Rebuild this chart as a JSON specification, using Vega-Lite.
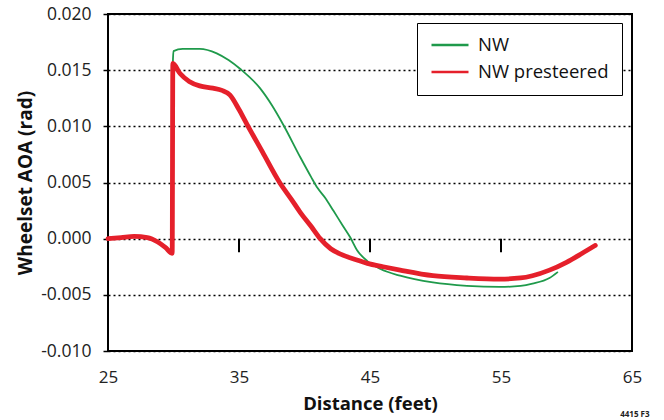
{
  "$schema": "https://vega.github.io/schema/vega-lite/v6.json",
  "width": 524,
  "height": 337,
  "autosize": {"type": "none"},
  "padding": {"left": 108, "top": 14, "right": 32, "bottom": 69},
  "background": "white",
  "config": {
    "font": "Open Sans",
    "view": {"stroke": "black", "strokeWidth": 2},
    "axis": {"labelFont": "Open Sans", "titleFont": "Open Sans", "labelColor": "#222", "titleColor": "#111", "labelFlush": false},
    "legend": {"symbolStrokeWidth": 2.5}
  },
  "datasets": {
    "lines": [
      {"series": "NW", "i": 1, "x": 25, "y": 0},
      {"series": "NW", "i": 2, "x": 26, "y": 0.0001},
      {"series": "NW", "i": 3, "x": 27, "y": 0.0002},
      {"series": "NW", "i": 4, "x": 28, "y": 0.0001},
      {"series": "NW", "i": 5, "x": 28.8, "y": -0.0003},
      {"series": "NW", "i": 6, "x": 29.4, "y": -0.0008},
      {"series": "NW", "i": 7, "x": 29.9, "y": -0.0013},
      {"series": "NW", "i": 8, "x": 29.95, "y": 0.0156},
      {"series": "NW", "i": 9, "x": 30.0, "y": 0.0167},
      {"series": "NW", "i": 10, "x": 30.7, "y": 0.0169},
      {"series": "NW", "i": 11, "x": 32.0, "y": 0.0169},
      {"series": "NW", "i": 12, "x": 33.3, "y": 0.0165},
      {"series": "NW", "i": 13, "x": 34.2, "y": 0.0159},
      {"series": "NW", "i": 14, "x": 35.1, "y": 0.0151},
      {"series": "NW", "i": 15, "x": 36.6, "y": 0.0134},
      {"series": "NW", "i": 16, "x": 37.5, "y": 0.0119},
      {"series": "NW", "i": 17, "x": 38.4, "y": 0.0101},
      {"series": "NW", "i": 18, "x": 39.7, "y": 0.0072},
      {"series": "NW", "i": 19, "x": 40.5, "y": 0.0055},
      {"series": "NW", "i": 20, "x": 41.0, "y": 0.0045},
      {"series": "NW", "i": 21, "x": 41.6, "y": 0.0036},
      {"series": "NW", "i": 22, "x": 42.2, "y": 0.0025},
      {"series": "NW", "i": 23, "x": 42.9, "y": 0.0012},
      {"series": "NW", "i": 24, "x": 43.5, "y": 0.0001},
      {"series": "NW", "i": 25, "x": 44.0, "y": -0.0010},
      {"series": "NW", "i": 26, "x": 44.8, "y": -0.0020},
      {"series": "NW", "i": 27, "x": 45.8, "y": -0.0027},
      {"series": "NW", "i": 28, "x": 47.3, "y": -0.0033},
      {"series": "NW", "i": 29, "x": 49.8, "y": -0.0039},
      {"series": "NW", "i": 30, "x": 52.4, "y": -0.0042},
      {"series": "NW", "i": 31, "x": 54.9, "y": -0.0043},
      {"series": "NW", "i": 32, "x": 56.5, "y": -0.0042},
      {"series": "NW", "i": 33, "x": 57.4, "y": -0.0040},
      {"series": "NW", "i": 34, "x": 58.7, "y": -0.0035},
      {"series": "NW", "i": 35, "x": 59.3, "y": -0.0030},
      {"series": "NW presteered", "i": 1, "x": 25, "y": 0},
      {"series": "NW presteered", "i": 2, "x": 26, "y": 0.0001},
      {"series": "NW presteered", "i": 3, "x": 27, "y": 0.0002},
      {"series": "NW presteered", "i": 4, "x": 28, "y": 0.0001},
      {"series": "NW presteered", "i": 5, "x": 28.8, "y": -0.0003},
      {"series": "NW presteered", "i": 6, "x": 29.4, "y": -0.0008},
      {"series": "NW presteered", "i": 7, "x": 29.9, "y": -0.0013},
      {"series": "NW presteered", "i": 8, "x": 29.95, "y": 0.0156},
      {"series": "NW presteered", "i": 9, "x": 30.5, "y": 0.0147},
      {"series": "NW presteered", "i": 10, "x": 31.2, "y": 0.0140},
      {"series": "NW presteered", "i": 11, "x": 32.0, "y": 0.0136},
      {"series": "NW presteered", "i": 12, "x": 33.0, "y": 0.0134},
      {"series": "NW presteered", "i": 13, "x": 33.7, "y": 0.0132},
      {"series": "NW presteered", "i": 14, "x": 34.3, "y": 0.0128},
      {"series": "NW presteered", "i": 15, "x": 35.0, "y": 0.0115},
      {"series": "NW presteered", "i": 16, "x": 35.6, "y": 0.0102},
      {"series": "NW presteered", "i": 17, "x": 36.8, "y": 0.0077},
      {"series": "NW presteered", "i": 18, "x": 38.1, "y": 0.0050},
      {"series": "NW presteered", "i": 19, "x": 39.0, "y": 0.0035},
      {"series": "NW presteered", "i": 20, "x": 39.7, "y": 0.0023},
      {"series": "NW presteered", "i": 21, "x": 40.5, "y": 0.0011},
      {"series": "NW presteered", "i": 22, "x": 41.2, "y": 0.0000},
      {"series": "NW presteered", "i": 23, "x": 42.0, "y": -0.0009},
      {"series": "NW presteered", "i": 24, "x": 42.8, "y": -0.0014},
      {"series": "NW presteered", "i": 25, "x": 44.0, "y": -0.0019},
      {"series": "NW presteered", "i": 26, "x": 44.8, "y": -0.0022},
      {"series": "NW presteered", "i": 27, "x": 46.0, "y": -0.0025},
      {"series": "NW presteered", "i": 28, "x": 47.3, "y": -0.0028},
      {"series": "NW presteered", "i": 29, "x": 49.8, "y": -0.0033},
      {"series": "NW presteered", "i": 30, "x": 52.4, "y": -0.0035},
      {"series": "NW presteered", "i": 31, "x": 54.9, "y": -0.0036},
      {"series": "NW presteered", "i": 32, "x": 56.5, "y": -0.0035},
      {"series": "NW presteered", "i": 33, "x": 57.4, "y": -0.0033},
      {"series": "NW presteered", "i": 34, "x": 58.7, "y": -0.0028},
      {"series": "NW presteered", "i": 35, "x": 60.0, "y": -0.0021},
      {"series": "NW presteered", "i": 36, "x": 61.2, "y": -0.0013},
      {"series": "NW presteered", "i": 37, "x": 62.2, "y": -0.0006}
    ],
    "ticks": [{"x": 35}, {"x": 45}, {"x": 55}],
    "note": [{"x": 64.1, "y": -0.0157, "label": "4415 F3"}]
  },
  "layer": [
    {
      "data": {"name": "lines"},
      "transform": [{"filter": "datum.series === 'NW'"}],
      "mark": {"type": "line", "interpolate": "monotone", "strokeWidth": 1.8, "strokeCap": "round", "strokeJoin": "round"},
      "encoding": {
        "x": {
          "field": "x", "type": "quantitative",
          "scale": {"domain": [25, 65], "nice": false, "zero": false},
          "axis": {
            "title": "Distance (feet)", "values": [25, 35, 45, 55, 65],
            "ticks": false, "domain": false, "grid": false, "labelFlush": false,
            "labelFontSize": 17, "labelPadding": 18,
            "titleFontSize": 18.5, "titleFontWeight": "bold", "titlePadding": 9
          }
        },
        "y": {
          "field": "y", "type": "quantitative",
          "scale": {"domain": [-0.01, 0.02], "nice": false, "zero": false},
          "axis": {
            "title": "Wheelset AOA (rad)",
            "values": [-0.01, -0.005, 0, 0.005, 0.01, 0.015, 0.02],
            "labelExpr": "replace(format(datum.value, '.3f'), '\u2212', '-')",
            "domain": false, "tickSize": 5, "tickColor": "black", "tickWidth": 1.5, "labelFlush": false,
            "grid": true, "gridColor": "black", "gridDash": [2, 3], "gridWidth": 1.6, "gridOpacity": 1,
            "labelFontSize": 17.5, "labelPadding": 12,
            "titleFontSize": 19, "titleFontWeight": "bold", "titlePadding": 5
          }
        },
        "order": {"field": "i", "type": "quantitative"},
        "color": {
          "field": "series", "type": "nominal",
          "scale": {"domain": ["NW", "NW presteered"], "range": ["#1f9a4b", "#e5202b"]},
          "legend": {
            "title": null, "orient": "none", "legendX": 309, "legendY": 9,
            "symbolType": "stroke", "symbolSize": 1369, "symbolStrokeWidth": 2.5,
            "clipHeight": 18,
            "labelFontSize": 18.5, "labelColor": "#111", "labelOffset": 8,
            "padding": 13, "rowPadding": 8,
            "strokeColor": "black", "fillColor": "white"
          }
        }
      }
    },
    {
      "data": {"name": "lines"},
      "transform": [{"filter": "datum.series === 'NW presteered'"}],
      "mark": {"type": "line", "interpolate": "monotone", "strokeWidth": 4.8, "strokeCap": "round", "strokeJoin": "round"},
      "encoding": {
        "x": {"field": "x", "type": "quantitative"},
        "y": {"field": "y", "type": "quantitative"},
        "order": {"field": "i", "type": "quantitative"},
        "color": {"field": "series", "type": "nominal"}
      }
    },
    {
      "mark": {"type": "rule", "color": "black", "strokeWidth": 2},
      "encoding": {"y": {"datum": 0, "type": "quantitative"}}
    },
    {
      "data": {"name": "ticks"},
      "mark": {"type": "rule", "color": "black", "strokeWidth": 2},
      "encoding": {
        "x": {"field": "x", "type": "quantitative"},
        "y": {"datum": 0, "type": "quantitative"},
        "y2": {"datum": -0.0012}
      }
    },
    {
      "data": {"name": "note"},
      "mark": {"type": "text", "fontSize": 8, "fontWeight": "bold", "align": "left", "baseline": "middle", "clip": false, "color": "#222"},
      "encoding": {
        "x": {"field": "x", "type": "quantitative"},
        "y": {"field": "y", "type": "quantitative"},
        "text": {"field": "label"}
      }
    }
  ]
}
